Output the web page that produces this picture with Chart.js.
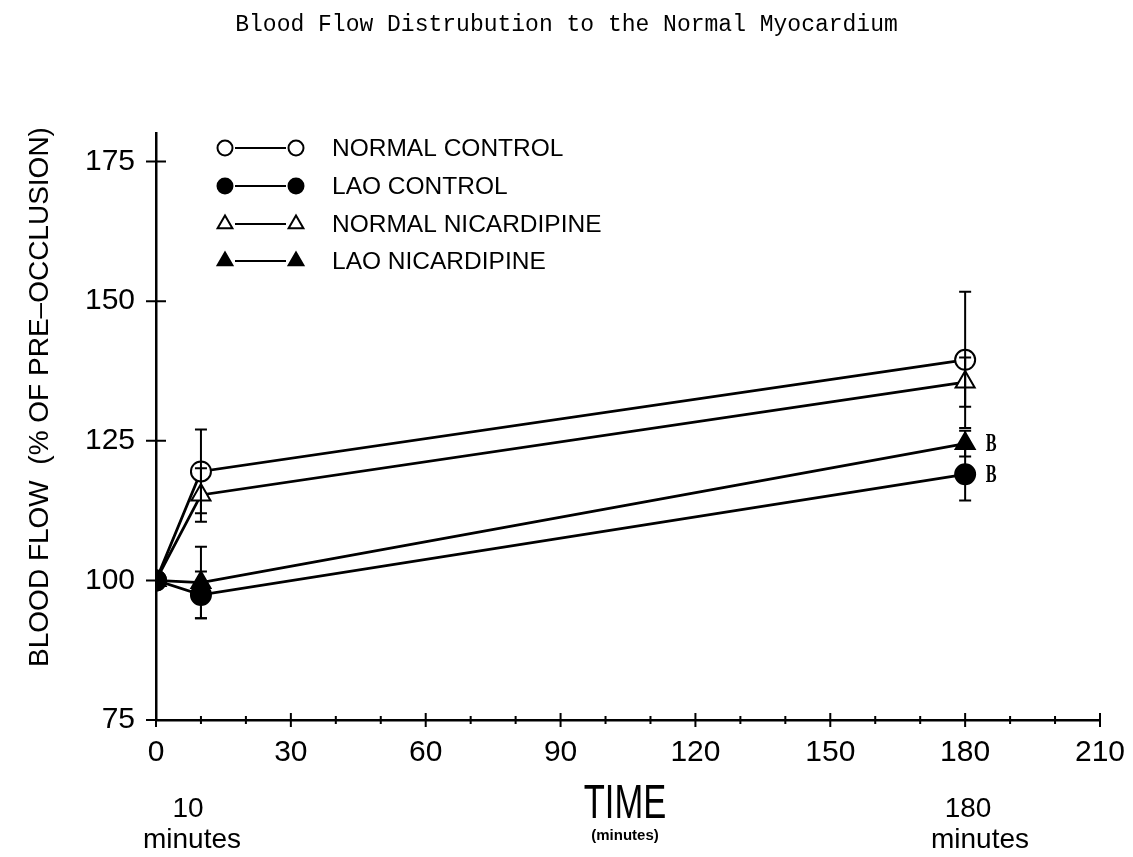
<!DOCTYPE html>
<html>
<head>
<meta charset="utf-8">
<title>Blood Flow Distrubution to the Normal Myocardium</title>
<script src="https://cdn.jsdelivr.net/npm/chart.js@4.4.0/dist/chart.umd.min.js"></script>
<style>
    html, body { margin: 0; padding: 0; background: #fff; }
    #wrap { width: 1133px; height: 857px; }
</style>
</head>
<body>
<div id="wrap"><canvas id="flowChart"></canvas></div>
<script>
// time points (minutes) and mean blood flow (% of pre-occlusion)
const times = [0, 10, 180];

const normalControl = [100, 119.5, 139.5];
const normalControlErr = [0, 7.5, 12.2];

const laoControl = [100, 97.4, 119];
const laoControlErr = [0, 4.2, 4.7];

const normalNicardipine = [100, 115.3, 135.5];
const normalNicardipineErr = [0, 4.8, 4.4];

const laoNicardipine = [100, 99.6, 124.5];
const laoNicardipineErr = [0, 6.4, 2.3];

const seriesNames = ['NORMAL CONTROL', 'LAO CONTROL', 'NORMAL NICARDIPINE', 'LAO NICARDIPINE'];
const sigLabel = 'B';

const xLabels = [0, 30, 60, 90, 120, 150, 180, 210];
const yTicks = [75, 100, 125, 150, 175];

const FONT = "'Liberation Sans', Arial, sans-serif";

function toPoints(vals) {
    return times.map((t, i) => ({ x: t, y: vals[i] }));
}

const seriesStyle = [
    { style: 'circle', fill: '#fff' },
    { style: 'circle', fill: '#000' },
    { style: 'triangle', fill: '#fff' },
    { style: 'triangle', fill: '#000' }
];

// draw a marker the same way in the legend
function drawMarker(ctx, s, x, y, r) {
    ctx.save();
    ctx.lineWidth = 2;
    ctx.strokeStyle = '#000';
    ctx.fillStyle = s.fill;
    ctx.beginPath();
    if (s.style === 'circle') {
        ctx.arc(x, y, r, 0, Math.PI * 2);
    } else {
        ctx.moveTo(x, y - r);
        ctx.lineTo(x + r * 0.87, y + r * 0.5);
        ctx.lineTo(x - r * 0.87, y + r * 0.5);
        ctx.closePath();
    }
    ctx.fill();
    ctx.stroke();
    ctx.restore();
}

const errorBars = {
    id: 'errorBars',
    afterDatasetsDraw(chart) {
        const ctx = chart.ctx;
        const xs = chart.scales.x, ys = chart.scales.y;
        ctx.save();
        ctx.strokeStyle = '#000';
        ctx.lineWidth = 2;
        chart.data.datasets.forEach(ds => {
            ds.data.forEach((p, i) => {
                const e = ds.errors[i];
                if (!e) return;
                const x = xs.getPixelForValue(p.x);
                const top = ys.getPixelForValue(p.y + e);
                const bot = ys.getPixelForValue(p.y - e);
                ctx.beginPath();
                ctx.moveTo(x, top); ctx.lineTo(x, bot);
                ctx.moveTo(x - 6, top); ctx.lineTo(x + 6, top);
                ctx.moveTo(x - 6, bot); ctx.lineTo(x + 6, bot);
                ctx.stroke();
            });
            if (ds.sig) {
                const last = ds.data[ds.data.length - 1];
                const x = xs.getPixelForValue(last.x) + 26;
                const y = ys.getPixelForValue(last.y);
                ctx.save();
                ctx.translate(x, y);
                ctx.scale(0.65, 1);
                ctx.font = "bold 25px 'Liberation Serif', serif";
                ctx.fillStyle = '#000';
                ctx.textAlign = 'center';
                ctx.textBaseline = 'middle';
                ctx.fillText(sigLabel, 0, 1);
                ctx.restore();
            }
        });
        ctx.restore();
    }
};

const axisMarks = {
    id: 'axisMarks',
    afterDraw(chart) {
        const ctx = chart.ctx;
        const xs = chart.scales.x, ys = chart.scales.y;
        const area = chart.chartArea;
        ctx.save();
        ctx.strokeStyle = '#000';
        ctx.lineWidth = 2;
        ctx.beginPath();
        xs.ticks.forEach(t => {
            const x = xs.getPixelForValue(t.value);
            const len = xLabels.includes(t.value) ? 7 : 4;
            ctx.moveTo(x, area.bottom - len);
            ctx.lineTo(x, area.bottom + len);
        });
        ys.ticks.forEach(t => {
            const y = ys.getPixelForValue(t.value);
            ctx.moveTo(area.left - 10, y);
            ctx.lineTo(area.left + 10, y);
        });
        ctx.stroke();

        // legend
        const rows = [148, 186, 224, 261];
        seriesNames.forEach((name, i) => {
            const y = rows[i];
            ctx.beginPath();
            ctx.moveTo(235, y); ctx.lineTo(286, y);
            ctx.stroke();
            drawMarker(ctx, seriesStyle[i], 225, y, i < 2 ? 7.5 : 8.5);
            drawMarker(ctx, seriesStyle[i], 296, y, i < 2 ? 7.5 : 8.5);
            ctx.fillStyle = '#000';
            ctx.font = '24.5px ' + FONT;
            ctx.textAlign = 'left';
            ctx.textBaseline = 'middle';
            ctx.fillText(name, 332, y + 1);
        });

        // y axis title
        ctx.save();
        ctx.translate(40, 397);
        ctx.rotate(-Math.PI / 2);
        ctx.font = '28px ' + FONT;
        ctx.textAlign = 'center';
        ctx.textBaseline = 'middle';
        ctx.fillText('BLOOD FLOW  (% OF PRE\u2013OCCLUSION)', 0, 0);
        ctx.restore();

        // notes under the axis
        ctx.textAlign = 'center';
        ctx.textBaseline = 'middle';
        ctx.font = '28px ' + FONT;
        ctx.fillText('10', 188, 809);
        ctx.fillText('minutes', 192, 840);
        ctx.fillText('180', 968, 809);
        ctx.fillText('minutes', 980, 840);

        ctx.save();
        ctx.translate(625, 805);
        ctx.scale(0.72, 1);
        ctx.font = '48px ' + FONT;
        ctx.fillText('TIME', 0, 0);
        ctx.restore();
        ctx.font = 'bold 15px ' + FONT;
        ctx.fillText('(minutes)', 625, 836);
        ctx.restore();
    }
};

const datasets = [
    { label: seriesNames[0], data: toPoints(normalControl), errors: normalControlErr, order: 4 },
    { label: seriesNames[1], data: toPoints(laoControl), errors: laoControlErr, order: 2, sig: true },
    { label: seriesNames[2], data: toPoints(normalNicardipine), errors: normalNicardipineErr, order: 3 },
    { label: seriesNames[3], data: toPoints(laoNicardipine), errors: laoNicardipineErr, order: 1, sig: true }
].map((ds, i) => Object.assign(ds, {
    borderColor: '#000',
    borderWidth: 2.8,
    backgroundColor: seriesStyle[i].fill,
    pointStyle: seriesStyle[i].style,
    pointBackgroundColor: seriesStyle[i].fill,
    pointBorderColor: '#000',
    pointBorderWidth: 2,
    pointRadius: seriesStyle[i].style === 'circle' ? 10 : 11,
    fill: false,
    tension: 0
}));

new Chart(document.getElementById('flowChart'), {
    type: 'line',
    data: { datasets },
    options: {
        responsive: true,
        maintainAspectRatio: false,
        animation: false,
        events: [],
        layout: { padding: { left: 33, right: 33, top: 0, bottom: 0 } },
        plugins: {
            legend: { display: false },
            tooltip: { enabled: false },
            title: {
                display: true,
                text: 'Blood Flow Distrubution to the Normal Myocardium',
                color: '#000',
                font: { family: "'Liberation Mono', 'DejaVu Sans Mono', monospace", size: 23, weight: 'normal', lineHeight: 1.2 },
                padding: { top: 11, bottom: 95 }
            }
        },
        scales: {
            x: {
                type: 'linear',
                min: 0,
                max: 210,
                afterFit: s => { s.height = 137; s.paddingLeft = 0; s.paddingRight = 0; },
                grid: { display: false, drawTicks: false },
                border: { display: true, color: '#000', width: 2.5 },
                ticks: {
                    stepSize: 10,
                    autoSkip: false,
                    maxRotation: 0,
                    padding: 15,
                    color: '#000',
                    font: { family: FONT, size: 30 },
                    callback: v => xLabels.includes(v) ? String(v) : ''
                }
            },
            y: {
                type: 'linear',
                min: 75,
                max: 180,
                afterFit: s => { s.width = 123; s.paddingTop = 0; s.paddingBottom = 0; },
                afterBuildTicks: s => { s.ticks = yTicks.map(v => ({ value: v })); },
                grid: { display: false, drawTicks: false },
                border: { display: true, color: '#000', width: 2.5 },
                ticks: {
                    padding: 21,
                    color: '#000',
                    font: { family: FONT, size: 30 }
                }
            }
        }
    },
    plugins: [errorBars, axisMarks]
});
</script>
</body>
</html>
